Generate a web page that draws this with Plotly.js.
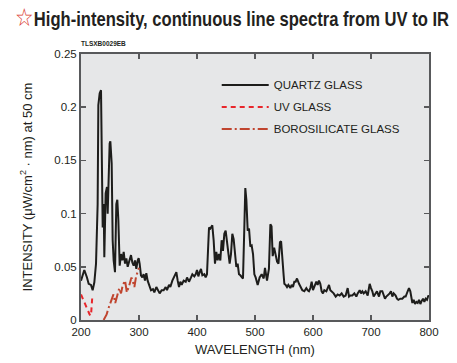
<!DOCTYPE html>
<html>
<head>
<meta charset="utf-8">
<script src="https://cdn.plot.ly/plotly-3.0.1.min.js"></script>
<style>html,body{margin:0;padding:0;background:#fff;}#chart{width:457px;height:363px;}
.annotation.maintitle text{transform-box:fill-box;transform-origin:0 50%;transform:scaleX(0.83);}</style>
</head>
<body>
<div id="chart"></div>
<script>
// Quartz glass spectrum (wavelength nm, intensity)
const quartzX = [200,205.7,210.3,213.2,217.2,220.1,223,225.9,228.7,229.9,232.2,234.5,235.6,237.4,239.1,240.2,242.5,244.8,246,247.1,249.4,250.6,252.9,254.6,256.3,258.6,260.9,262.6,264.4,266.7,269,271.3,273.6,275.9,278.2,280.5,283.9,286.2,288.5,290.8,293.1,295.4,297.7,299.4,301.1,303.4,305.7,308,310.3,312.6,314.9,318.4,320.7,324.1,326.4,329.9,332.2,335.6,339.1,342.5,346,348.3,351.7,354,357.5,360.9,364.4,366.7,369,371.3,373.6,377,380.5,382.8,386.2,389.7,392,395.4,397.7,400,402.3,404.6,406.9,409.2,412.6,414.9,417.2,420.7,423,426.4,428.7,431,433.3,435.6,437.9,440.2,442.5,444.8,447.1,449.4,451.7,454,456.3,458.6,460.9,463.2,465.5,467.8,470.1,472.4,474.7,477,479.3,481.6,483.3,485.1,487.4,489.7,492,494.3,496.6,498.9,501.1,504.6,508,511.5,515,517.2,520.7,524,526.5,528.5,530.5,533,535.5,538,540.5,543,545,547,549.4,550.6,552.9,555.2,557.5,560.9,563.2,565.5,567.8,570.1,572.4,575.9,578.2,581.6,585.1,588.5,590.8,593.1,595.4,597.7,600,603.4,605.7,608,610.3,612.6,614.9,617.2,619.5,623,625.3,627.6,629.9,632.2,635.6,639.1,642.5,646,649.4,652.9,656.3,659.8,662.1,664.4,667.8,671.3,674.7,677,680.5,682.8,685.1,687.4,690.8,694.3,697.7,700,702.3,704.6,708,710.3,713.8,716.1,719.5,721.8,724.1,726.4,728.7,732.2,734.5,736.8,739.1,742.5,744.8,747.1,750.6,754,757.5,759.8,763.2,765.5,767.8,771.3,773.6,775.9,778.2,780.5,782.8,785.1,787.4,789.7,792,794.3,796.6,798.9,800];
const quartzY = [0.037,0.047,0.040,0.034,0.033,0.028,0.0355,0.053,0.109,0.202,0.213,0.216,0.166,0.087,0.109,0.059,0.119,0.125,0.100,0.128,0.166,0.168,0.147,0.075,0.056,0.045,0.109,0.113,0.094,0.051,0.062,0.056,0.064,0.053,0.058,0.050,0.056,0.061,0.054,0.051,0.056,0.048,0.056,0.058,0.053,0.042,0.040,0.043,0.037,0.044,0.037,0.031,0.028,0.029,0.026,0.031,0.028,0.025,0.028,0.028,0.031,0.028,0.033,0.031,0.037,0.041,0.045,0.037,0.031,0.036,0.033,0.037,0.036,0.040,0.036,0.040,0.043,0.041,0.043,0.047,0.041,0.045,0.048,0.042,0.043,0.040,0.043,0.087,0.086,0.089,0.075,0.053,0.064,0.056,0.062,0.056,0.075,0.065,0.081,0.084,0.075,0.062,0.053,0.062,0.081,0.076,0.062,0.050,0.053,0.043,0.042,0.040,0.039,0.087,0.124,0.113,0.084,0.086,0.069,0.070,0.062,0.043,0.040,0.033,0.040,0.043,0.039,0.049,0.037,0.048,0.090,0.088,0.060,0.068,0.060,0.055,0.053,0.073,0.074,0.055,0.042,0.034,0.033,0.031,0.033,0.030,0.033,0.031,0.036,0.036,0.039,0.034,0.031,0.028,0.027,0.030,0.028,0.027,0.030,0.036,0.028,0.033,0.036,0.033,0.037,0.034,0.027,0.025,0.028,0.027,0.031,0.033,0.028,0.027,0.025,0.022,0.024,0.023,0.025,0.022,0.023,0.030,0.022,0.023,0.023,0.025,0.022,0.025,0.028,0.025,0.027,0.025,0.027,0.023,0.034,0.030,0.027,0.022,0.025,0.027,0.022,0.027,0.027,0.023,0.020,0.022,0.023,0.025,0.027,0.022,0.025,0.023,0.020,0.019,0.020,0.020,0.022,0.022,0.027,0.030,0.027,0.016,0.019,0.015,0.017,0.016,0.019,0.015,0.018,0.020,0.017,0.020,0.019,0.023,0.022];

// UV glass
const uvX = [200,203,206,209,212,215,217.2,219.5];
const uvY = [0.024,0.020,0.016,0.012,0.008,0.005,0.004,0.022];

// Borosilicate glass
const boroX = [239,244,248,252,256,259,262,266,269,272,276,279,283,287,290,292,295,298,300];
const boroY = [0,0.005,0.012,0.019,0.024,0.016,0.022,0.030,0.025,0.033,0.037,0.026,0.032,0.040,0.035,0.031,0.041,0.047,0.049];

const seriesNames = ["QUARTZ GLASS","UV GLASS","BOROSILICATE GLASS"];
const xTicks = [200,300,400,500,600,700,800];
const yTicks = [0,0.05,0.1,0.15,0.2,0.25];

const traces = [
  {x: quartzX, y: quartzY, name: seriesNames[0], legendgroup: "a", mode: "lines", line: {color: "#1d1d1b", width: 2}},
  {x: uvX, y: uvY, name: seriesNames[1], legendgroup: "b", mode: "lines", line: {color: "#e8262b", width: 2, dash: "5px,4px"}},
  {x: boroX, y: boroY, name: seriesNames[2], legendgroup: "c", mode: "lines", line: {color: "#c0452f", width: 2, dash: "10px,3px,2px,3px"}}
];

const axisCommon = {
  showgrid: false, zeroline: false, showline: true, linecolor: "#58595b", linewidth: 2,
  mirror: "allticks", ticks: "inside", ticklen: 5, tickwidth: 1.5, tickcolor: "#58595b",
  tickfont: {family: "Liberation Sans, Arial, sans-serif", size: 11.5, color: "#231f20"}
};

const layout = {
  width: 457, height: 363,
  margin: {l: 81, r: 28, t: 54, b: 43, pad: 0},
  paper_bgcolor: "#ffffff", plot_bgcolor: "#e6e7e8",
  showlegend: true,
  legend: {x: 0.39, y: 0.938, xanchor: "left", yanchor: "top", bgcolor: "rgba(0,0,0,0)",
           traceorder: "grouped", tracegroupgap: 3,
           font: {family: "Liberation Sans, Arial, sans-serif", size: 11.5, color: "#231f20"}, itemwidth: 47},
  xaxis: Object.assign({}, axisCommon, {range: [200, 800], tickvals: xTicks,
    title: {text: "WAVELENGTH (nm)", font: {family: "Liberation Sans, Arial, sans-serif", size: 13, color: "#231f20"}, standoff: 8}}),
  yaxis: Object.assign({}, axisCommon, {range: [0, 0.25], tickvals: yTicks,
    title: {text: "INTENSITY (μW/cm<sup>2</sup> · nm) at 50 cm", font: {family: "Liberation Sans, Arial, sans-serif", size: 13, color: "#231f20"}, standoff: 19}}),
  annotations: [
    {xref: "paper", yref: "paper", x: -0.196, y: 1.139, xanchor: "left", yanchor: "middle", showarrow: false,
     text: '<span style="color:#d9342b;font-size:25px">☆</span><b>High-intensity, continuous line spectra from UV to IR</b>',
     font: {family: "Liberation Sans, Arial, sans-serif", size: 20, color: "#231f20"}},
    {xref: "paper", yref: "paper", x: -0.005, y: 1.02, xanchor: "left", yanchor: "bottom", showarrow: false,
     text: "<b>TLSXB0029EB</b>", font: {family: "Liberation Sans, Arial, sans-serif", size: 6.5, color: "#231f20"}}
  ]
};

Plotly.newPlot("chart", traces, layout, {displayModeBar: false, staticPlot: true}).then(function () {
  const ann = document.querySelectorAll("#chart .annotation");
  if (ann.length) ann[0].classList.add("maintitle");
});
</script>
</body>
</html>
